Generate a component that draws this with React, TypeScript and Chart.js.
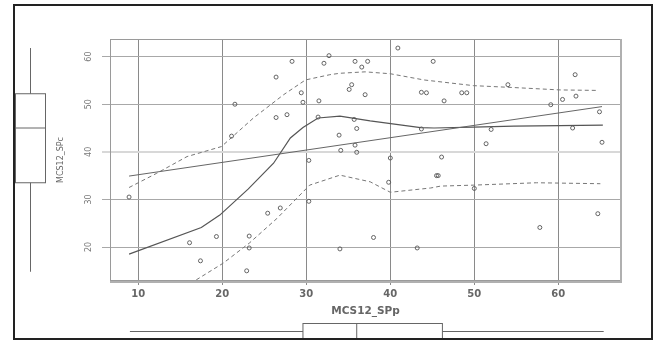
import { useEffect, useRef } from 'react';
import { Chart, registerables } from 'chart.js';

Chart.register(...registerables);

// Scatter points: MCS12_SPp (x) vs MCS12_SPc (y)
const xValues = [
  8.9, 16.1, 17.4, 19.3, 21.1, 21.5, 22.9, 23.2, 23.2, 25.4, 26.4, 26.4, 26.9, 27.7, 28.3, 29.4,
  29.6, 30.3, 30.3, 31.5, 31.4, 32.1, 32.7, 35.8, 37.3, 36.6, 35.4, 35.1, 37.0, 35.7, 36.0, 33.9,
  35.8, 34.1, 36.0, 40.9, 45.1, 43.7, 44.3, 46.4, 48.5, 49.1, 54.0, 62.0, 60.5, 62.1, 59.1, 64.9,
  43.7, 52.0, 61.7, 51.4, 65.2, 40.0, 46.1, 45.5, 45.7, 39.8, 50.0, 64.7, 57.8, 38.0, 34.0, 43.2,
];
const yValues = [
  30.5, 20.9, 17.1, 22.2, 43.3, 50.0, 15.0, 22.3, 19.8, 27.1, 55.7, 47.2, 28.2, 47.8, 59.0, 52.4,
  50.4, 38.2, 29.6, 50.7, 47.3, 58.6, 60.2, 59.0, 59.0, 57.8, 54.1, 53.1, 52.0, 46.8, 44.9, 43.5,
  41.4, 40.3, 39.9, 61.8, 59.0, 52.5, 52.4, 50.7, 52.4, 52.4, 54.1, 56.2, 51.0, 51.7, 49.9, 48.4,
  44.8, 44.7, 45.0, 41.7, 42.0, 38.7, 38.9, 35.0, 35.0, 33.6, 32.3, 27.0, 24.1, 22.0, 19.6, 19.8,
];

// Linear fit
const regX = [8.9, 65.2];
const regY = [34.9, 49.5];

// Smooth (solid)
const smoothX = [8.9, 17.5, 19.7, 23.1, 26.1, 28.1, 29.6, 31.4, 34.0, 37.6, 43.6, 45.2, 49.9, 54.7, 60.2, 65.3];
const smoothY = [18.5, 24.1, 26.7, 32.2, 37.6, 42.9, 45.1, 47.1, 47.5, 46.5, 45.1, 45.0, 45.2, 45.4, 45.5, 45.6];

// Upper spread (dashed)
const upperX = [8.9, 12.2, 15.8, 19.9, 23.7, 27.3, 29.9, 32.8, 34.0, 37.0, 40.0, 44.0, 49.9, 54.7, 60.2, 64.6];
const upperY = [32.5, 35.5, 39.0, 41.1, 47.1, 52.0, 55.1, 56.2, 56.5, 56.8, 56.4, 55.1, 53.9, 53.5, 53.0, 52.9];

// Lower spread (dashed)
const lowerX = [16.9, 20.1, 23.2, 26.5, 30.4, 34.0, 37.6, 40.0, 44.8, 46.0, 49.9, 57.4, 65.0];
const lowerY = [13.1, 16.6, 20.8, 26.0, 33.0, 35.1, 33.7, 31.5, 32.4, 32.8, 33.0, 33.5, 33.3];

// Tick labels
const xTicks = [10, 20, 30, 40, 50, 60];
const yTicks = [20, 30, 40, 50, 60];

// Marginal boxplots: [lower whisker, Q1, median, Q3, upper whisker]
const yBox = [14.8, 33.5, 45.0, 52.2, 61.8];
const xBox = [9.0, 29.6, 36.0, 46.2, 65.4];

const xTitle = 'MCS12_SPp';
const yTitle = 'MCS12_SPc';

const decor = {
  id: 'decor',
  beforeDraw(chart: any) {
    const { ctx, width, height } = chart;
    ctx.save();
    ctx.fillStyle = '#ffffff';
    ctx.fillRect(0, 0, width, height);
    ctx.restore();
  },
  afterDraw(chart: any) {
    const { ctx, chartArea: a } = chart;
    const xs = chart.scales.x;
    const ys = chart.scales.y;
    ctx.save();
    // plot box
    ctx.strokeStyle = '#9a9a9a';
    ctx.lineWidth = 1;
    ctx.strokeRect(a.left + 0.5, a.top + 0.5, a.right - a.left - 1, a.bottom - a.top - 1);
    ctx.strokeStyle = '#b0b0b0';
    ctx.lineWidth = 2;
    ctx.beginPath();
    ctx.moveTo(a.right, a.top);
    ctx.lineTo(a.right, a.bottom + 1);
    ctx.lineTo(a.left, a.bottom + 1);
    ctx.stroke();

    ctx.strokeStyle = '#666666';
    ctx.lineWidth = 1;
    // left boxplot
    const py = (v: number) => ys.getPixelForValue(v);
    const cx = 30.5;
    ctx.beginPath();
    ctx.moveTo(cx, py(yBox[0]));
    ctx.lineTo(cx, py(yBox[1]));
    ctx.moveTo(cx, py(yBox[3]));
    ctx.lineTo(cx, py(yBox[4]));
    ctx.stroke();
    ctx.strokeRect(15.5, py(yBox[3]), 30, py(yBox[1]) - py(yBox[3]));
    ctx.beginPath();
    ctx.moveTo(15.5, py(yBox[2]));
    ctx.lineTo(45.5, py(yBox[2]));
    ctx.stroke();

    // bottom boxplot
    const px = (v: number) => xs.getPixelForValue(v);
    const cy = 331.5;
    ctx.beginPath();
    ctx.moveTo(px(xBox[0]), cy);
    ctx.lineTo(px(xBox[1]), cy);
    ctx.moveTo(px(xBox[3]), cy);
    ctx.lineTo(px(xBox[4]), cy);
    ctx.stroke();
    ctx.strokeRect(px(xBox[1]), 323.5, px(xBox[3]) - px(xBox[1]), 16);
    ctx.beginPath();
    ctx.moveTo(px(xBox[2]), 323.5);
    ctx.lineTo(px(xBox[2]), 339.5);
    ctx.stroke();

    // outer frame
    ctx.strokeStyle = '#222222';
    ctx.lineWidth = 2;
    ctx.strokeRect(14, 5, 638, 334);
    ctx.restore();
  },
};

export default function App() {
  const ref = useRef<HTMLCanvasElement>(null);
  useEffect(() => {
    document.body.style.margin = '0';
    const canvas = ref.current!;
    const toXY = (xa: number[], ya: number[]) => xa.map((x, i) => ({ x, y: ya[i] }));
    const chart = new Chart(canvas, {
      type: 'scatter',
      data: {
        datasets: [
          {
            label: 'points',
            data: toXY(xValues, yValues),
            pointRadius: 2,
            pointBorderWidth: 0.9,
            pointBorderColor: '#555555',
            pointBackgroundColor: 'rgba(0,0,0,0)',
            showLine: false,
          },
          {
            label: 'linear',
            data: toXY(regX, regY),
            showLine: true,
            borderColor: '#666666',
            borderWidth: 1,
            pointRadius: 0,
          },
          {
            label: 'smooth',
            data: toXY(smoothX, smoothY),
            showLine: true,
            borderColor: '#555555',
            borderWidth: 1.2,
            pointRadius: 0,
          },
          {
            label: 'upper',
            data: toXY(upperX, upperY),
            showLine: true,
            borderColor: '#777777',
            borderWidth: 1,
            borderDash: [4, 3],
            pointRadius: 0,
          },
          {
            label: 'lower',
            data: toXY(lowerX, lowerY),
            showLine: true,
            borderColor: '#777777',
            borderWidth: 1,
            borderDash: [4, 3],
            pointRadius: 0,
          },
        ],
      },
      options: {
        animation: false,
        responsive: false,
        devicePixelRatio: 1,
        events: [],
        layout: { padding: { left: 55, top: 39, right: 36, bottom: 23 } },
        plugins: { legend: { display: false }, tooltip: { enabled: false } },
        scales: {
          x: {
            type: 'linear',
            min: 6.63,
            max: 67.46,
            afterFit: (s: any) => {
              s.height = 37;
            },
            afterBuildTicks: (s: any) => {
              s.ticks = xTicks.map((v) => ({ value: v }));
            },
            border: { display: true, color: '#999999' },
            grid: { color: '#8a8a8a', lineWidth: 1, tickLength: 4, drawTicks: true },
            ticks: {
              color: '#666666',
              padding: 3,
              maxRotation: 0,
              font: { family: 'DejaVu Sans', size: 10, weight: 'bold' },
            },
            title: {
              display: true,
              text: xTitle,
              color: '#666666',
              padding: { top: 0, bottom: 0 },
              font: { family: 'DejaVu Sans', size: 10.5, weight: 'bold' },
            },
          },
          y: {
            type: 'linear',
            min: 12.86,
            max: 63.7,
            afterFit: (s: any) => {
              s.width = 55;
            },
            afterBuildTicks: (s: any) => {
              s.ticks = yTicks.map((v) => ({ value: v }));
            },
            border: { display: true, color: '#888888' },
            grid: {
              color: (c: any) => (c.tick && c.tick.value === 40 ? '#d8d8d8' : '#a8a8a8'),
              lineWidth: (c: any) => (c.tick && c.tick.value === 40 ? 2 : 1),
              tickLength: 8,
            },
            ticks: {
              color: '#777777',
              padding: 8,
              minRotation: 90,
              maxRotation: 90,
              crossAlign: 'center',
              font: { family: 'DejaVu Sans', size: 8 },
            },
            title: {
              display: true,
              text: yTitle,
              color: '#666666',
              padding: { top: 1, bottom: 0 },
              font: { family: 'DejaVu Sans', size: 8 },
            },
          },
        },
      },
      plugins: [decor],
    } as any);
    return () => chart.destroy();
  }, []);
  return (
    <div style={{ position: 'absolute', left: 0, top: 0 }}>
      <canvas ref={ref} width={657} height={341} style={{ display: 'block', width: 657, height: 341 }} />
    </div>
  );
}
